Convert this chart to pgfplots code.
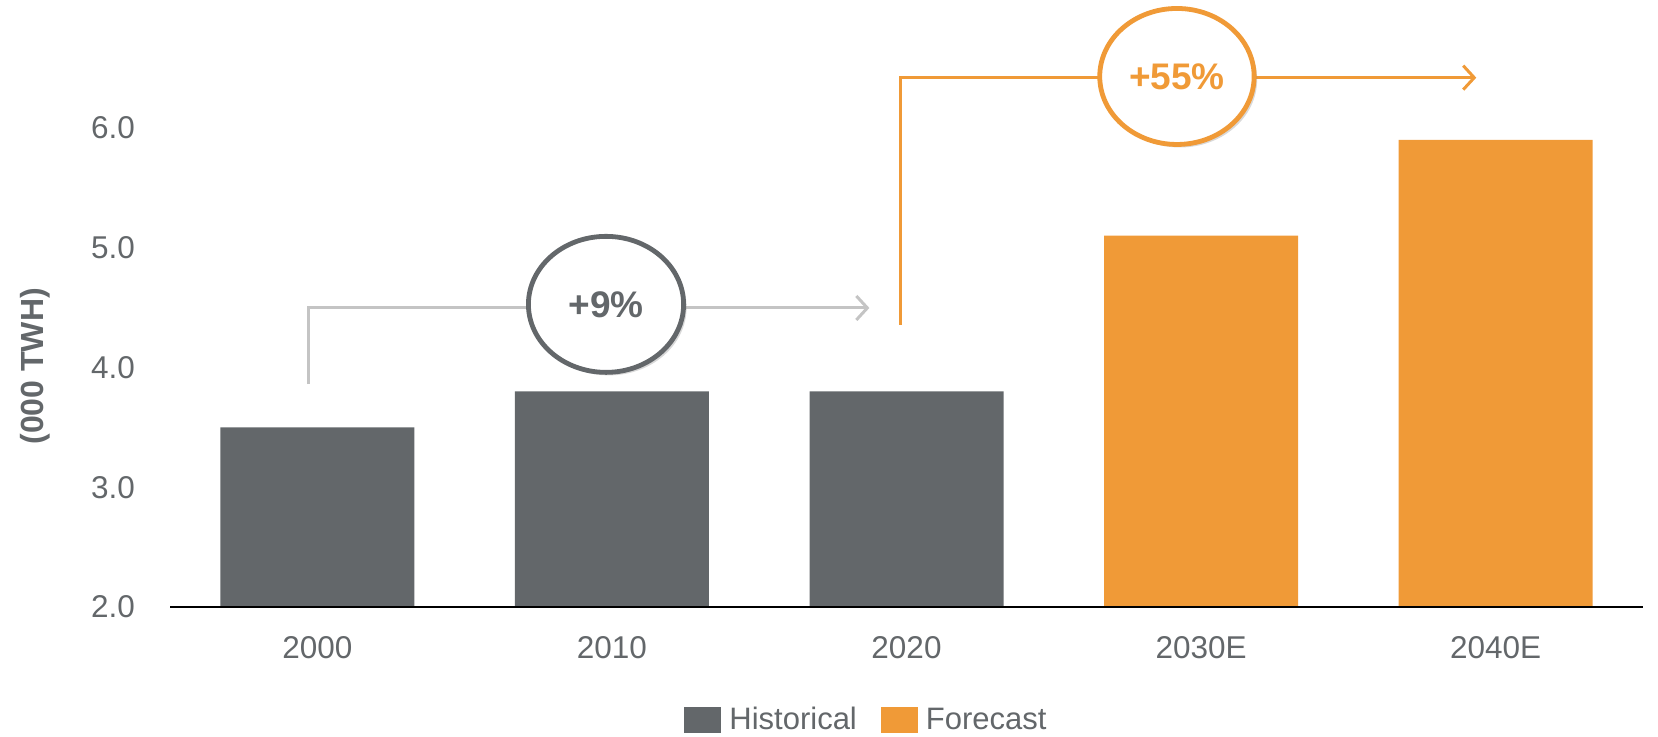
\documentclass[border=0pt]{standalone}
\usepackage{pgfplots}
\pgfplotsset{compat=1.18}
\usepackage{fontspec}
\setmainfont{Liberation Sans}
\usetikzlibrary{arrows.meta,shadows}

\definecolor{histgray}{HTML}{63676A}
\definecolor{fcorange}{HTML}{F09A37}
\definecolor{txtgray}{HTML}{63676A}
\definecolor{arrgray}{HTML}{C4C4C4}

\pgfplotsset{
  sqlegend/.style={legend image code/.code={\fill[##1] (0pt,-6.6pt) rectangle (18.3pt,6.6pt); \path (20.5pt,0pt);}},
}

\begin{document}
\begin{tikzpicture}
\begin{axis}[
    at={(85pt,65pt)}, anchor=south west,
    scale only axis,
    width=736.5pt, height=299.4pt,
    xmin=-0.5, xmax=4.5,
    ymin=2, ymax=7,
    ybar, bar shift=0pt, bar width=97pt,
    clip mode=individual,
    axis on top,
    axis x line*=bottom,
    axis y line*=left,
    y axis line style={draw=none},
    x axis line style={black, line width=1pt},
    tick style={draw=none},
    xtick={0,1,2,3,4},
    xticklabels={2000,2010,2020,2030E,2040E},
    ytick={2,3,4,5,6},
    /pgf/number format/assume math mode=true,
    yticklabel style={/pgf/number format/fixed, /pgf/number format/fixed zerofill,
        /pgf/number format/precision=1, xshift=-14pt},
    tick label style={font=\fontsize{15.75}{18}\selectfont, text=txtgray},
    xticklabel style={yshift=-7.2pt},
    every axis y label/.style={at={(axis description cs:-0.0917,0.402)}, rotate=90, anchor=center},
    ylabel={(000 TWH)},
    ylabel style={font=\fontsize{16}{18}\selectfont\bfseries, text=txtgray},
    legend style={at={(axis description cs:0.4735,-0.1887)}, anchor=center, draw=none, fill=none,
        legend columns=-1, font=\fontsize{15.5}{18}\selectfont, text=txtgray,
        /tikz/every even column/.append style={column sep=10pt}},
]
\addplot[fill=histgray, draw=none, sqlegend] coordinates {(0,3.5) (1,3.8) (2,3.8)};
\addlegendentry{Historical}
\addplot[fill=fcorange, draw=none, sqlegend] coordinates {(3,5.1) (4,5.9)};
\addlegendentry{Forecast}

% growth callouts
\draw[arrgray, line width=1.5pt, -{Straight Barb[length=5.5pt,width=12pt]}]
    (axis cs:-0.03,3.86) |- (axis cs:1.874,4.497);
\draw[histgray, line width=2.4pt, fill=white,
      drop shadow={shadow xshift=1.5pt, shadow yshift=-1.5pt, opacity=0.3}]
    (axis cs:0.98,4.527) ellipse [x radius=38.8pt, y radius=34pt];
\node[text=histgray, font=\fontsize{18.5}{22}\selectfont\bfseries] at (axis cs:0.98,4.527) {+9\%};

\draw[fcorange, line width=1.5pt, -{Straight Barb[length=5.5pt,width=12pt]}]
    (axis cs:1.979,4.355) |- (axis cs:3.934,6.42);
\draw[fcorange, line width=2.4pt, fill=white,
      drop shadow={shadow xshift=1.5pt, shadow yshift=-1.5pt, opacity=0.3}]
    (axis cs:2.918,6.43) ellipse [x radius=38.6pt, y radius=34pt];
\node[text=fcorange, font=\fontsize{18.5}{22}\selectfont\bfseries] at (axis cs:2.918,6.43) {+55\%};
\end{axis}
\pgfresetboundingbox
\path[use as bounding box] (0,0) rectangle (829pt,368.5pt);
\end{tikzpicture}
\end{document}
